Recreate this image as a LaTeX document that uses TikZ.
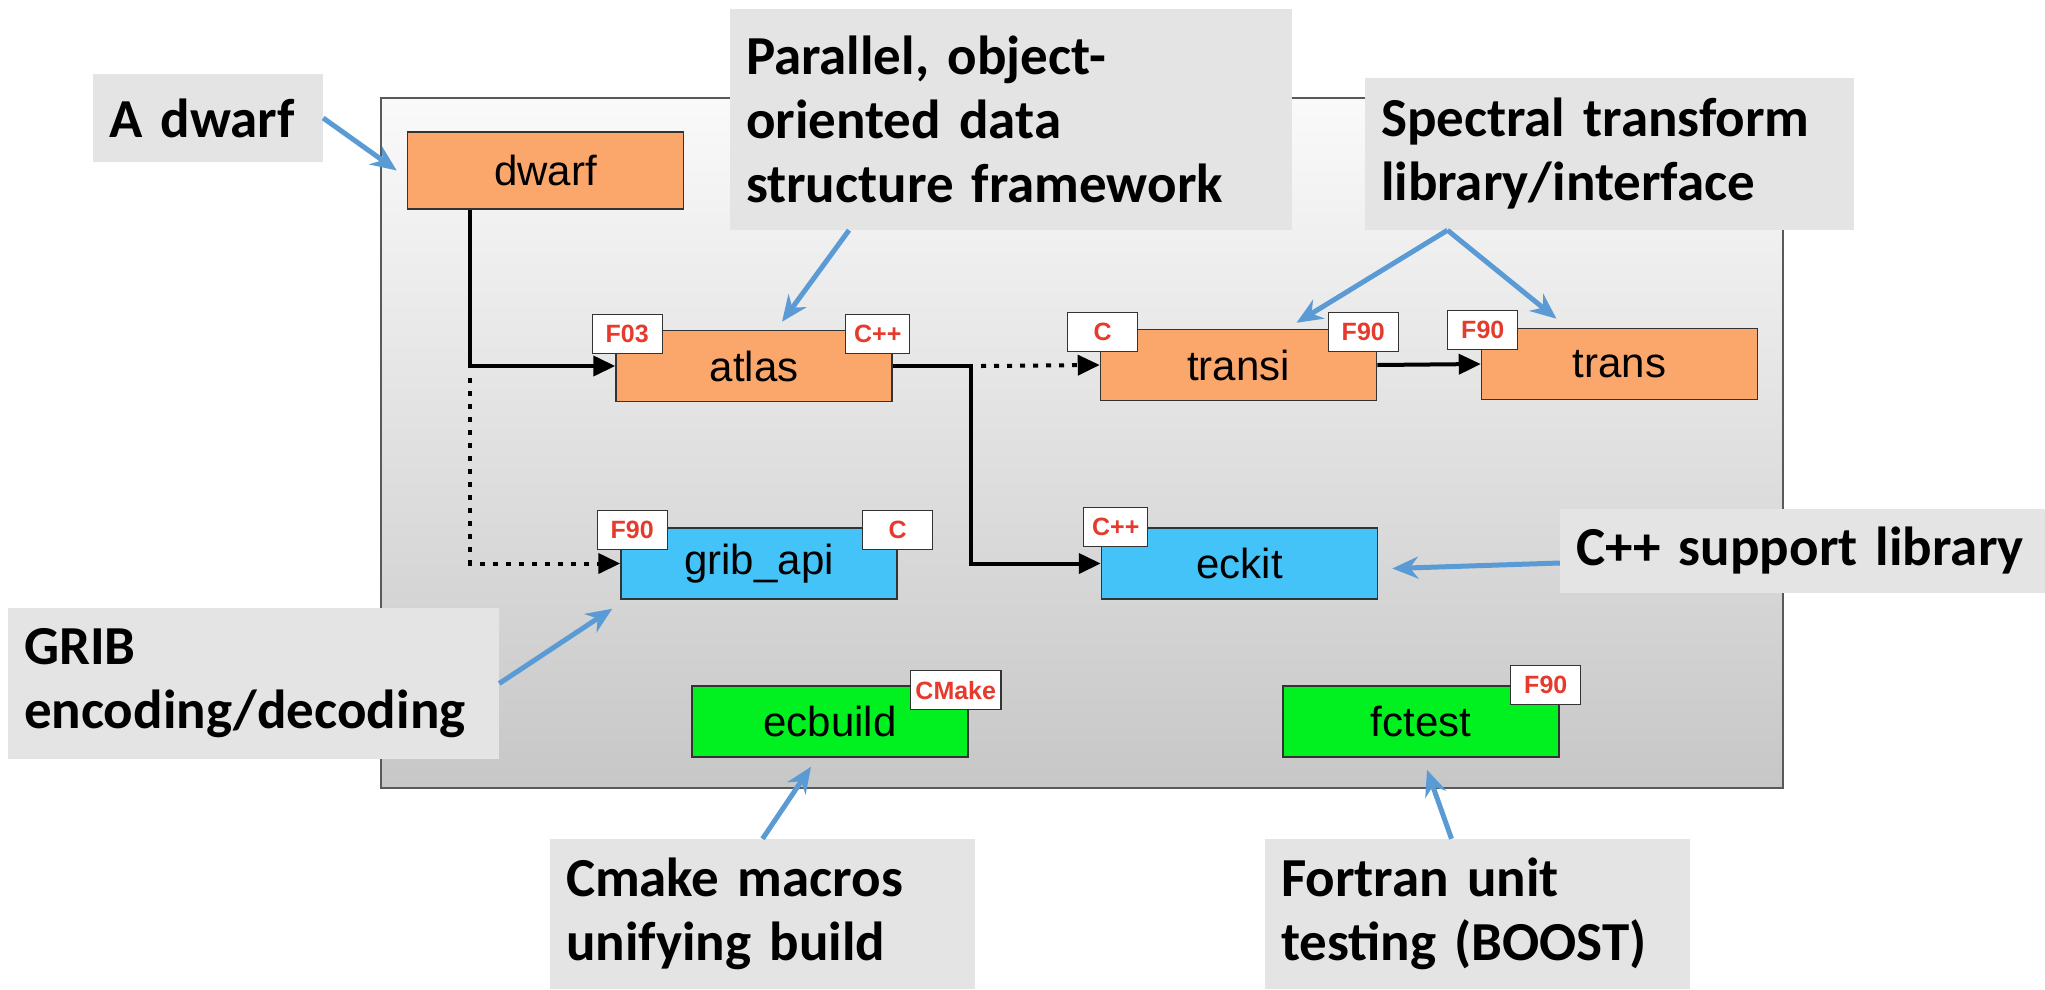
\documentclass[tikz,border=0pt]{standalone}
\usepackage{fontspec}
\setmainfont{Carlito}
\newfontfamily\modfont{Liberation Sans}
\usetikzlibrary{arrows.meta}
\definecolor{modorange}{HTML}{FBA66B}
\definecolor{modblue}{HTML}{44C3F8}
\definecolor{modgreen}{HTML}{00F020}
\definecolor{tagred}{HTML}{E53A2C}
\definecolor{noteblue}{HTML}{5B9BD5}
\definecolor{notegray}{HTML}{E4E4E4}
\tikzset{
  panel/.style={draw=black!65, line width=1.5pt, top color=white!98!black, bottom color=white!78!black},
  module/.style={draw=black!80, line width=1.5pt, minimum width=276pt, minimum height=71pt,
    font=\modfont\fontsize{42}{48}\selectfont},
  tag/.style={draw=black!80, fill=white, line width=1.2pt, minimum width=70pt, minimum height=39pt,
    inner sep=5pt, text=tagred, font=\modfont\bfseries\fontsize{25}{30}\selectfont},
  note/.style={fill=notegray, align=left, inner xsep=16pt, font=\bfseries\fontsize{55}{64}\selectfont},
  dep/.style={line width=4pt, -{Triangle[length=22pt,width=20pt]}},
  optdep/.style={dep, dash pattern=on 5pt off 8pt},
  feed/.style={noteblue, line width=5pt, -{Stealth[length=26pt,width=22pt]}},
}
\begin{document}
\begin{tikzpicture}[x=1pt, y=-1pt]
  \useasboundingbox (0,0) rectangle (2045,989);
  \draw[panel] (381,98) rectangle (1783,788);

  % modules
  \node[module, fill=modorange, minimum height=77pt] (dwarf) at (545.5,170.5) {dwarf};
  \node[module, fill=modorange] (atlas) at (754,366) {atlas};
  \node[module, fill=modorange] (transi) at (1238.5,365) {transi};
  \node[module, fill=modorange] (trans) at (1619.5,364) {trans};
  \node[module, fill=modblue] (gribapi) at (759,563.5) {grib\_api};
  \node[module, fill=modblue] (eckit) at (1239.5,563.5) {eckit};
  \node[module, fill=modgreen] (ecbuild) at (830,721.5) {ecbuild};
  \node[module, fill=modgreen] (fctest) at (1421,721.5) {fctest};

  % language tags
  \node[tag] (atlasl) at ([shift={(12,4.5)}]atlas.north west) {F03};
  \node[tag, minimum width=64pt] (atlasr) at ([shift={(-15,4.5)}]atlas.north east) {C++};
  \node[tag] (transil) at ([shift={(3,3.5)}]transi.north west) {C};
  \node[tag] (transir) at ([shift={(-14,3.5)}]transi.north east) {F90};
  \node[tag] (transl) at ([shift={(2,2)}]trans.north west) {F90};
  \node[tag] (gribl) at ([shift={(12,3)}]gribapi.north west) {F90};
  \node[tag] (gribr) at ([shift={(0,3)}]gribapi.north east) {C};
  \node[tag, minimum width=64pt] (eckitl) at ([shift={(15,0)}]eckit.north west) {C++};
  \node[tag] (ecbuildr) at ([shift={(-13,5)}]ecbuild.north east) {CMake};
  \node[tag] (fctestr) at ([shift={(-14,0)}]fctest.north east) {F90};

  % dependencies
  \coordinate (trunk) at (470,366);
  \coordinate (fork) at (470,378);
  \coordinate (split) at (971,366);
  \draw[dep] (dwarf.south -| trunk) -- (trunk) -- (atlas.west);
  \draw[optdep] (fork) |- (gribapi.west);
  \draw[dep] (atlas.east) -- (split) |- (eckit.west);
  \draw[optdep] ([shift={(10,0)}]split) -- (transi.west);
  \draw[dep] (transi.east) -- (trans.west);

  % callouts
  \node[note, minimum width=230pt, minimum height=88pt, text width=198pt] (dwarfnote) at (208,118) {A dwarf};
  \node[note, minimum width=562pt, minimum height=221pt, text width=530pt] (parnote) at (1011,119.5)
    {Parallel, object-\\oriented data\\structure framework};
  \node[note, minimum width=489pt, minimum height=152pt, text width=457pt] (specnote) at (1609.5,154)
    {Spectral transform\\library/interface};
  \node[note, minimum width=485pt, minimum height=84pt, text width=453pt] (cppnote) at (1802.5,551)
    {C++ support library};
  \node[note, minimum width=491pt, minimum height=151pt, text width=459pt] (gribnote) at (253.5,683.5)
    {GRIB\\encoding/decoding};
  \node[note, minimum width=425pt, minimum height=150pt, text width=393pt] (cmakenote) at (762.5,914)
    {Cmake macros\\unifying build};
  \node[note, minimum width=425pt, minimum height=150pt, text width=393pt] (fortnote) at (1477.5,914)
    {Fortran unit\\testing (BOOST)};

  \draw[feed] (dwarfnote.east) -- ([shift={(-10,0)}]dwarf.west);
  \draw[feed] ([shift={(-162,0)}]parnote.south) -- ([shift={(28,-8)}]atlas.north);
  \draw[feed] ([shift={(-162,0)}]specnote.south) -- ([shift={(58,-6)}]transi.north);
  \draw[feed] ([shift={(-162,0)}]specnote.south) -- ([shift={(-63,-9)}]trans.north);
  \draw[feed] ([shift={(0,12)}]cppnote.west) -- ([shift={(14,5)}]eckit.east);
  \draw[feed] (gribnote.east) -- ([shift={(-8,9)}]gribapi.south west);
  \draw[feed] (cmakenote.north) -- ([shift={(-19,9)}]ecbuild.south);
  \draw[feed] ([shift={(-26,0)}]fortnote.north) -- ([shift={(6,12)}]fctest.south);
\end{tikzpicture}
\end{document}
